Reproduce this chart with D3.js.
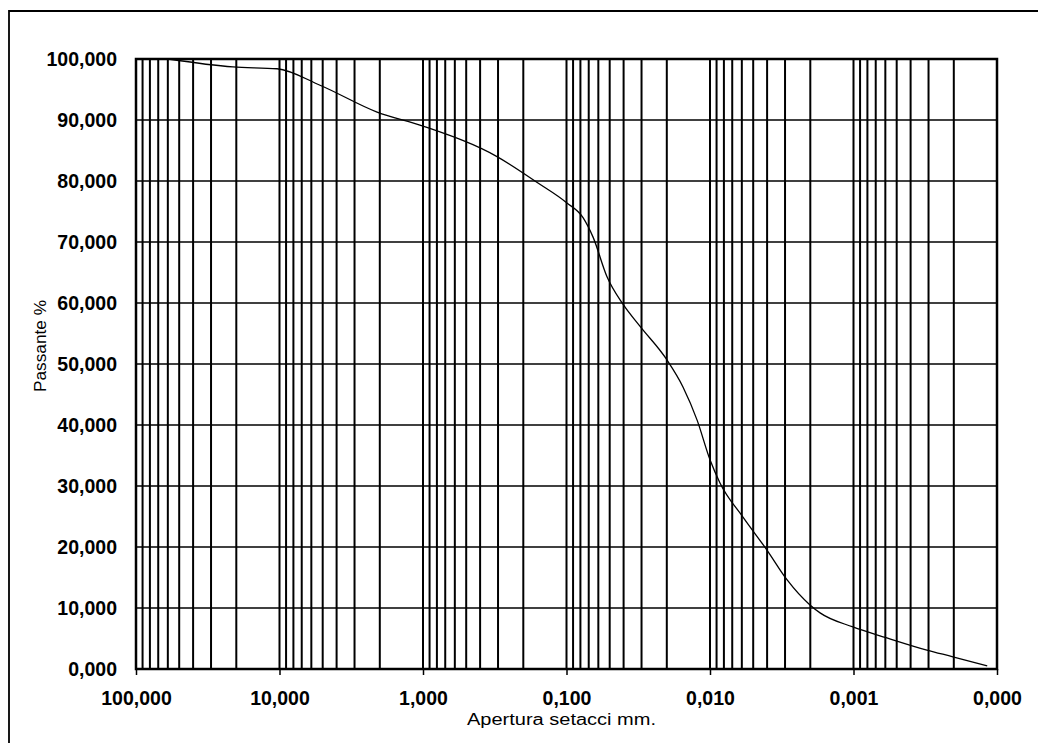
<!DOCTYPE html>
<html lang="it">
<head>
    <meta charset="UTF-8">
    <title>Curva granulometrica</title>
    <script src="https://cdn.jsdelivr.net/npm/d3@7"></script>
    <style>
        body { margin: 0; background: #fff; }
        text { font-family: Arial, "Liberation Sans", sans-serif; fill: #000; }
    </style>
</head>
<body>
<script type="text/javascript">
    // diametri (mm) e passante (%)
    var diametri = [59.8, 21.1, 10.4, 5.22, 2.09, 1.0, 0.305, 0.161, 0.0993, 0.0767, 0.0653,
        0.0522, 0.0404, 0.0308, 0.0200, 0.0154, 0.0123, 0.0100, 0.00852, 0.00589, 0.00401,
        0.00290, 0.00201, 0.00171, 0.00101, 0.000585, 0.000308, 0.000203, 0.000117];
    var passante = [100, 98.7, 98.4, 95.7, 91.3, 89.0, 84.0, 79.8, 76.4, 74.0, 70.8,
        64.3, 59.8, 56.2, 50.7, 46.2, 40.8, 34.3, 30.5, 24.9, 19.5,
        14.6, 10.5, 9.2, 6.9, 5.1, 3.1, 2.0, 0.5];

    var xTickValues = [100, 10, 1, 0.1, 0.01, 0.001, 0.0001];
    var xTickLabels = ["100,000", "10,000", "1,000", "0,100", "0,010", "0,001", "0,000"];
    var yTickValues = [0, 10, 20, 30, 40, 50, 60, 70, 80, 90, 100];
    var yTickLabels = ["0,000", "10,000", "20,000", "30,000", "40,000", "50,000",
        "60,000", "70,000", "80,000", "90,000", "100,000"];

    var width = 1038;
    var height = 744;
    var plotLeft = 136, plotRight = 997, plotTop = 59, plotBottom = 669;

    var svg = d3.select('body').append('svg')
            .attr('width', width)
            .attr('height', height);

    // cornice del foglio
    svg.append('path')
            .attr('d', 'M9,743 L9,11 L1038,11')
            .attr('fill', 'none')
            .attr('stroke', '#000')
            .attr('stroke-width', 1.8);

    var x = d3.scaleLog()
            .domain([100, 0.0001])
            .range([plotLeft, plotRight]);
    var y = d3.scaleLinear()
            .domain([0, 100])
            .range([plotBottom, plotTop]);

    // griglia verticale (1..9 per decade)
    svg.append('g').selectAll('line')
            .data(x.ticks())
            .enter()
            .append('line')
            .attr('x1', function (d) { return x(d); })
            .attr('x2', function (d) { return x(d); })
            .attr('y1', plotTop)
            .attr('y2', plotBottom)
            .attr('stroke', '#000')
            .attr('stroke-width', 2);

    // griglia orizzontale
    svg.append('g').selectAll('line')
            .data(yTickValues)
            .enter()
            .append('line')
            .attr('x1', plotLeft)
            .attr('x2', plotRight)
            .attr('y1', function (d) { return y(d); })
            .attr('y2', function (d) { return y(d); })
            .attr('stroke', '#000')
            .attr('stroke-width', 1.6);

    svg.append('rect')
            .attr('x', plotLeft)
            .attr('y', plotTop)
            .attr('width', plotRight - plotLeft)
            .attr('height', plotBottom - plotTop)
            .attr('fill', 'none')
            .attr('stroke', '#000')
            .attr('stroke-width', 2.5);

    // asse x
    var xAxis = d3.axisBottom(x)
            .tickValues(xTickValues)
            .tickSize(6)
            .tickPadding(16)
            .tickFormat(function (d, i) { return xTickLabels[i]; });
    var gx = svg.append('g')
            .attr('transform', 'translate(0,' + plotBottom + ')')
            .call(xAxis);
    gx.select('.domain').remove();
    gx.selectAll('line').attr('stroke-width', 1.5);
    gx.selectAll('text')
            .style('font-size', '19.5px')
            .style('font-weight', 'bold')
            .style('font-family', 'Arial, "Liberation Sans", sans-serif');

    // asse y
    var yAxis = d3.axisLeft(y)
            .tickValues(yTickValues)
            .tickSize(0)
            .tickPadding(19)
            .tickFormat(function (d, i) { return yTickLabels[i]; });
    var gy = svg.append('g')
            .attr('transform', 'translate(' + plotLeft + ',0)')
            .call(yAxis);
    gy.select('.domain').remove();
    gy.selectAll('text')
            .style('font-size', '19.5px')
            .style('font-weight', 'bold')
            .style('font-family', 'Arial, "Liberation Sans", sans-serif');

    // curva granulometrica
    var line = d3.line()
            .x(function (d) { return x(d[0]); })
            .y(function (d) { return y(d[1]); })
            .curve(d3.curveMonotoneX);
    svg.append('path')
            .datum(d3.zip(diametri, passante))
            .attr('d', line)
            .attr('fill', 'none')
            .attr('stroke', '#000')
            .attr('stroke-width', 1.3);

    // titoli assi
    svg.append('text')
            .attr('x', 467)
            .attr('y', 725)
            .attr('textLength', 189)
            .attr('lengthAdjust', 'spacingAndGlyphs')
            .style('font-size', '16px')
            .text('Apertura setacci mm.');

    svg.append('text')
            .attr('transform', 'translate(46,346) rotate(-90)')
            .attr('text-anchor', 'middle')
            .attr('textLength', 92)
            .attr('lengthAdjust', 'spacingAndGlyphs')
            .style('font-size', '17px')
            .text('Passante %');
</script>
</body>
</html>
